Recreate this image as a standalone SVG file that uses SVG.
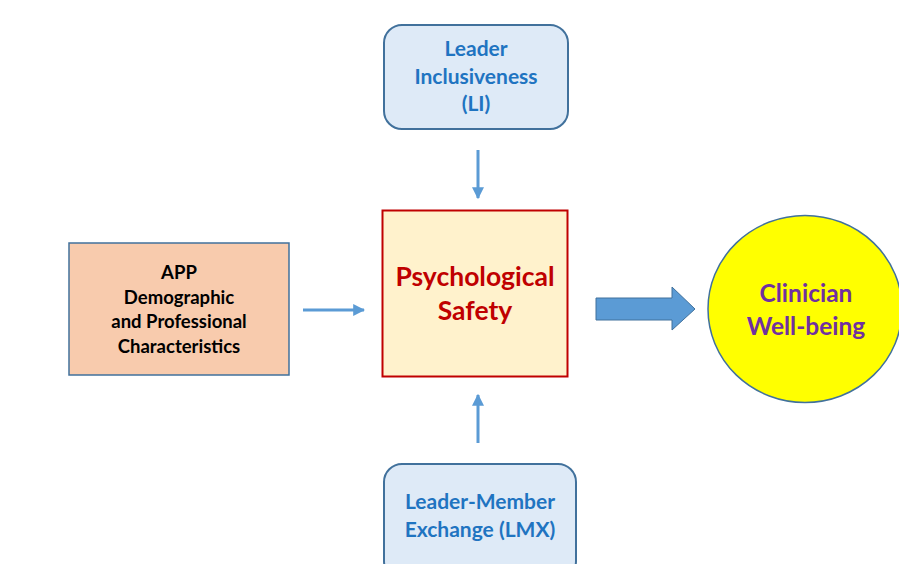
<svg xmlns="http://www.w3.org/2000/svg" width="899" height="564" viewBox="0 0 899 564">
<defs>
<style>
text{font-family:Lato,"Open Sans","Liberation Sans",sans-serif;font-weight:bold;text-anchor:middle}
.blue{fill:#DEEAF7;stroke:#41719C;stroke-width:2}
.bt{fill:#1F74C1;font-size:21px}
.conn{stroke:#5B9BD5;stroke-width:3;fill:none}
</style>
<marker id="ah" viewBox="0 0 10 10" refX="9" refY="5" markerWidth="4" markerHeight="4" orient="auto" markerUnits="strokeWidth">
<path d="M0,0 L10,5 L0,10 Z" fill="#5B9BD5"/>
</marker>
</defs>
<rect width="899" height="564" fill="#fff"/>
<g id="li">
<rect class="blue" x="384" y="25" width="184" height="104" rx="18"/>
<text class="bt" x="476" y="56">Leader</text>
<text class="bt" x="476" y="84">Inclusiveness</text>
<text class="bt" x="476" y="111">(LI)</text>
</g>
<g id="lmx">
<rect class="blue" x="384" y="464" width="192" height="115" rx="18"/>
<text class="bt" x="480" y="509">Leader-Member</text>
<text class="bt" x="480" y="537">Exchange (LMX)</text>
</g>
<g id="app">
<rect x="69" y="243" width="220" height="132" fill="#F8CBAD" stroke="#41719C" stroke-width="1.5"/>
<g style="font-size:18.5px;fill:#000">
<text x="179" y="279">APP</text>
<text x="179" y="304">Demographic</text>
<text x="179" y="328">and Professional</text>
<text x="179" y="353">Characteristics</text>
</g>
</g>
<g id="ps">
<rect x="382.5" y="210.5" width="185" height="166" fill="#FFF2CC" stroke="#C00000" stroke-width="2"/>
<text x="475" y="286" style="font-size:26.5px;fill:#C00000">Psychological</text>
<text x="475" y="320" style="font-size:26.5px;fill:#C00000">Safety</text>
</g>
<g id="cw">
<ellipse cx="805" cy="309" rx="97" ry="93.5" fill="#FFFF00" stroke="#41719C" stroke-width="1.5"/>
<text x="806" y="302" style="font-size:24.5px;fill:#7030A0">Clinician</text>
<text x="806" y="335" style="font-size:24.5px;fill:#7030A0">Well-being</text>
</g>
<g id="connectors">
<line class="conn" x1="478" y1="150" x2="478" y2="198" marker-end="url(#ah)"/>
<line class="conn" x1="478" y1="443" x2="478" y2="395" marker-end="url(#ah)"/>
<line class="conn" x1="303" y1="310" x2="364" y2="310" marker-end="url(#ah)"/>
<path d="M596,298 L672,298 L672,287 L695,309 L672,330 L672,320 L596,320 Z" fill="#5B9BD5" stroke="#41719C" stroke-width="1"/>
</g>
</svg>
